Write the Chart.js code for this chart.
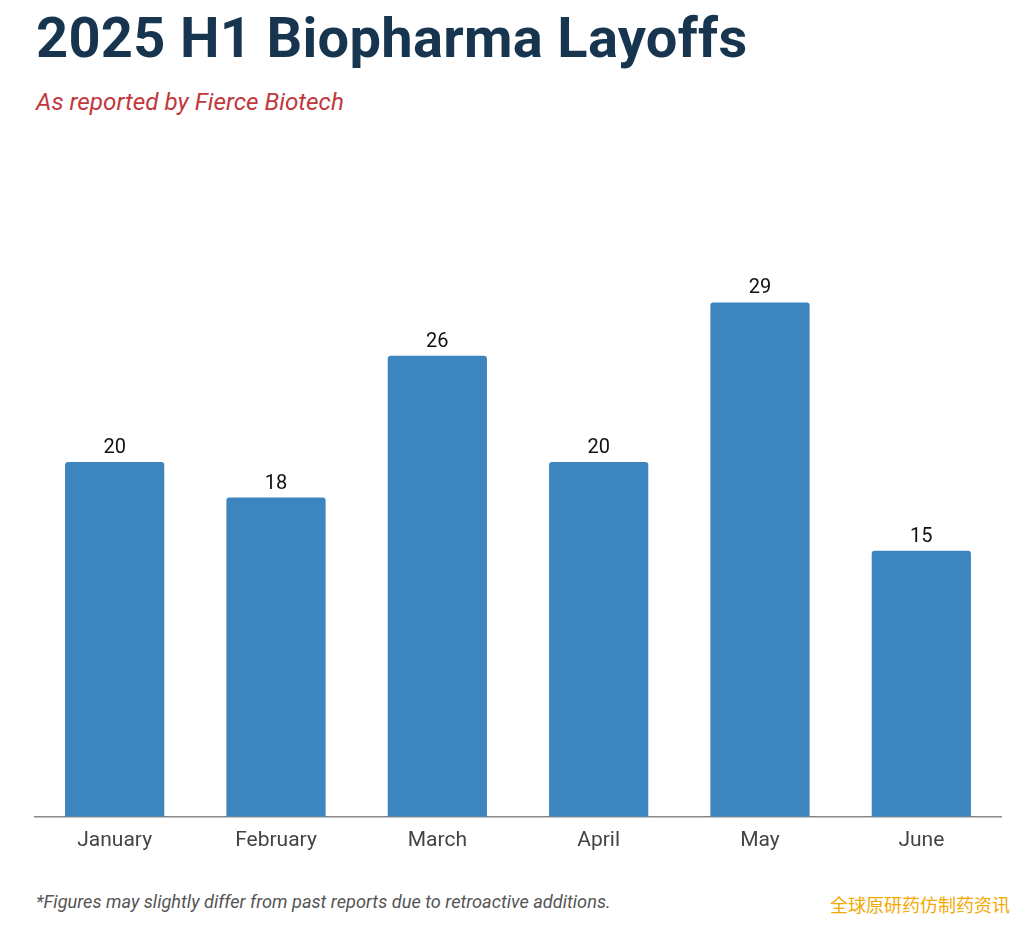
<!DOCTYPE html>
<html>
<head>
<meta charset="utf-8">
<script src="https://cdn.jsdelivr.net/npm/chart.js@4"></script>
<style>
    body { margin: 0; background: #fff; width: 1029px; height: 927px; position: relative; overflow: hidden; font-family: Roboto, sans-serif; }
    #title { position: absolute; left: 36px; top: 5px; font-size: 56px; font-weight: 700; color: #17354f; letter-spacing: 0.3px; }
    #subtitle { position: absolute; left: 36px; top: 87px; font-size: 24.3px; font-style: italic; color: #c1383c; }
    #chart-box { position: absolute; left: 34px; top: 196px; width: 968px; height: 660px; }
    #note { position: absolute; left: 36px; top: 891px; font-size: 18.2px; font-style: italic; color: #555; }
    #mark { position: absolute; right: 19px; top: 891px; font-size: 18px; color: #f2a900; font-family: "Noto Sans CJK SC", sans-serif; }
</style>
</head>
<body>
<div id="title">2025 H1 Biopharma Layoffs</div>
<div id="subtitle">As reported by Fierce Biotech</div>
<div id="chart-box"><canvas id="layoffChart"></canvas></div>
<div id="note">*Figures may slightly differ from past reports due to retroactive additions.</div>
<div id="mark">全球原研药仿制药资讯</div>

<script>
const months = ['January', 'February', 'March', 'April', 'May', 'June'];
const layoffs = [20, 18, 26, 20, 29, 15];

// draws the number above each bar
const barValues = {
    id: 'barValues',
    afterDatasetsDraw(chart) {
        const ctx = chart.ctx;
        const meta = chart.getDatasetMeta(0);
        ctx.save();
        ctx.font = '20px Roboto';
        ctx.fillStyle = '#111';
        ctx.textAlign = 'center';
        ctx.textBaseline = 'bottom';
        meta.data.forEach((bar, i) => {
            ctx.fillText(layoffs[i], bar.x, bar.y - 4);
        });
        ctx.restore();
    }
};

new Chart(document.getElementById('layoffChart').getContext('2d'), {
    type: 'bar',
    data: {
        labels: months,
        datasets: [{
            data: layoffs,
            backgroundColor: '#3d85be',
            borderRadius: 3,
            borderSkipped: 'bottom',
            barPercentage: 0.615,
            categoryPercentage: 1
        }]
    },
    options: {
        responsive: true,
        maintainAspectRatio: false,
        animation: false,
        layout: { padding: 0 },
        plugins: {
            legend: { display: false },
            tooltip: { enabled: false }
        },
        scales: {
            y: {
                display: false,
                min: 0,
                max: 35
            },
            x: {
                grid: { display: false },
                border: { display: true, color: '#888', width: 1.5 },
                ticks: {
                    color: '#444',
                    padding: 3,
                    font: { family: 'Roboto', size: 21 }
                }
            }
        }
    },
    plugins: [barValues]
});
</script>
</body>
</html>
